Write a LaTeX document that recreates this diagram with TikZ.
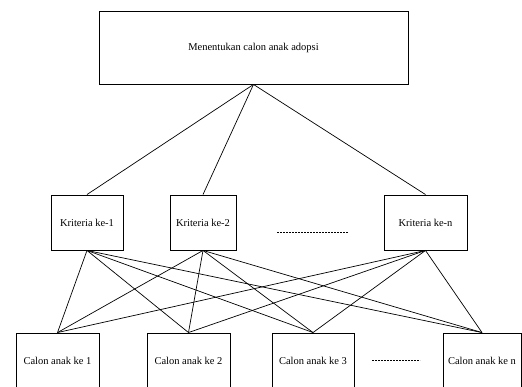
\documentclass[tikz,border=0pt]{standalone}
\usepackage{fontspec}
\setmainfont{Liberation Serif}
\begin{document}
\begin{tikzpicture}[x=1pt,y=-1pt,
  box/.style={draw, line width=0.9pt, inner sep=0pt, minimum height=55pt,
    font=\fontsize{10.5}{12}\selectfont},
  link/.style={line width=0.7pt},
  gap/.style={line width=0.6pt, dash pattern=on 2pt off 1pt}]
\useasboundingbox (0,0) rectangle (522,387);
\clip (0,0) rectangle (522,387);
% goal
\node[box, minimum width=309pt, minimum height=73pt] (goal) at (253.5,47.5) {Menentukan calon anak adopsi};
% criteria
\node[box, minimum width=72pt] (k1) at (87,222.5) {Kriteria ke-1};
\node[box, minimum width=66pt] (k2) at (203,222.5) {Kriteria ke-2};
\node[box, minimum width=83pt] (kn) at (425.5,222.5) {Kriteria ke-n};
% alternatives
\node[box, minimum width=83pt] (c1) at (57.5,360.5) {Calon anak ke 1};
\node[box, minimum width=83pt] (c2) at (188.5,360.5) {Calon anak ke 2};
\node[box, minimum width=82pt] (c3) at (313,360.5) {Calon anak ke 3};
\node[box, minimum width=78pt] (cn) at (482,360.5) {Calon anak ke n};
% ellipsis marks
\coordinate (ka) at (277,232);
\coordinate (kb) at (348,232);
\coordinate (ca) at (372,360);
\coordinate (cb) at (420,360);
\draw[gap] (ka) -- (kb);
\draw[gap] (ca) -- (cb);
% goal to criteria
\foreach \k in {k1,k2,kn}
  \draw[link] (goal.south) -- (\k.north);
% criteria to alternatives
\foreach \k in {k1,k2,kn}
  \foreach \c in {c1,c2,c3,cn}
    \draw[link] (\k.south) -- (\c.north);
\end{tikzpicture}
\end{document}
